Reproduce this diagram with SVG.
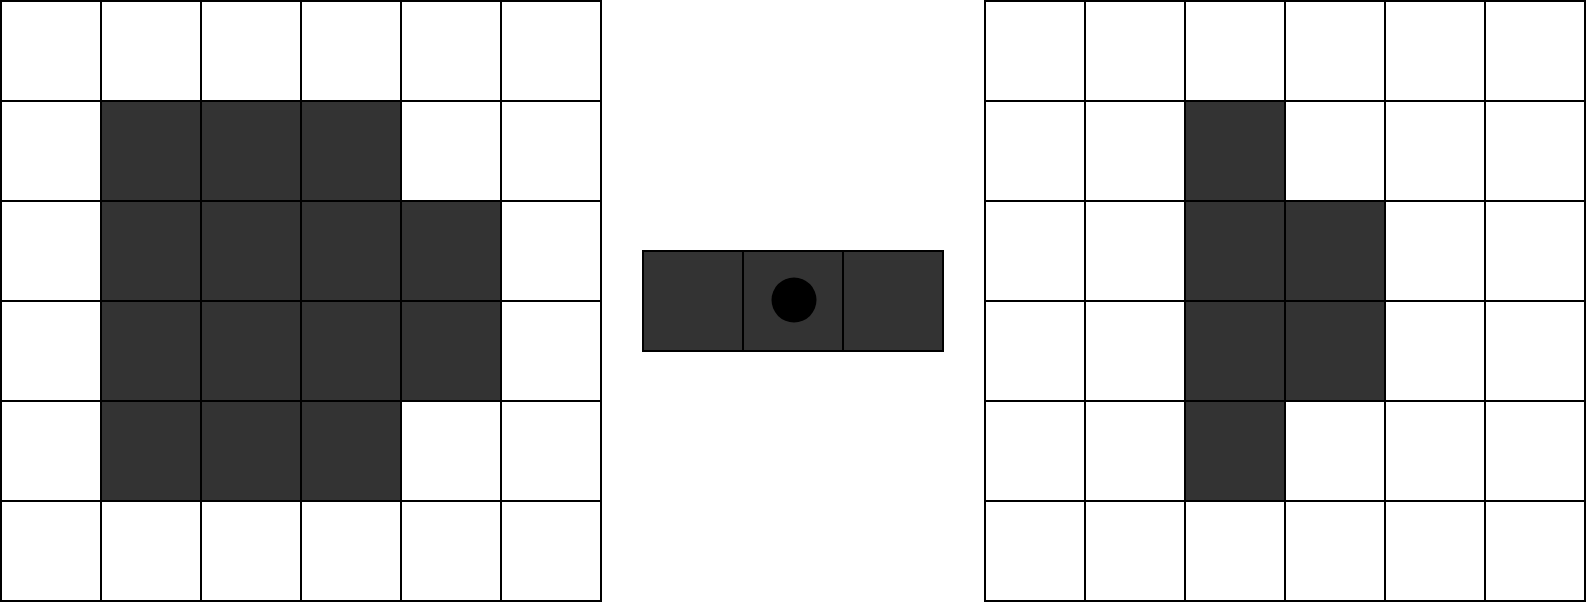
<svg xmlns="http://www.w3.org/2000/svg" width="1586" height="602" viewBox="0 0 1586 602">
<style>
.c{fill:#ffffff;stroke:#000000;stroke-width:2}
.d{fill:#333333;stroke:#000000;stroke-width:2}
</style>
<rect width="1586" height="602" fill="#ffffff"/>
<g id="left-grid">
<rect class="c" x="1" y="1" width="100" height="100"/><rect class="c" x="101" y="1" width="100" height="100"/><rect class="c" x="201" y="1" width="100" height="100"/><rect class="c" x="301" y="1" width="100" height="100"/><rect class="c" x="401" y="1" width="100" height="100"/><rect class="c" x="501" y="1" width="100" height="100"/>
<rect class="c" x="1" y="101" width="100" height="100"/><rect class="d" x="101" y="101" width="100" height="100"/><rect class="d" x="201" y="101" width="100" height="100"/><rect class="d" x="301" y="101" width="100" height="100"/><rect class="c" x="401" y="101" width="100" height="100"/><rect class="c" x="501" y="101" width="100" height="100"/>
<rect class="c" x="1" y="201" width="100" height="100"/><rect class="d" x="101" y="201" width="100" height="100"/><rect class="d" x="201" y="201" width="100" height="100"/><rect class="d" x="301" y="201" width="100" height="100"/><rect class="d" x="401" y="201" width="100" height="100"/><rect class="c" x="501" y="201" width="100" height="100"/>
<rect class="c" x="1" y="301" width="100" height="100"/><rect class="d" x="101" y="301" width="100" height="100"/><rect class="d" x="201" y="301" width="100" height="100"/><rect class="d" x="301" y="301" width="100" height="100"/><rect class="d" x="401" y="301" width="100" height="100"/><rect class="c" x="501" y="301" width="100" height="100"/>
<rect class="c" x="1" y="401" width="100" height="100"/><rect class="d" x="101" y="401" width="100" height="100"/><rect class="d" x="201" y="401" width="100" height="100"/><rect class="d" x="301" y="401" width="100" height="100"/><rect class="c" x="401" y="401" width="100" height="100"/><rect class="c" x="501" y="401" width="100" height="100"/>
<rect class="c" x="1" y="501" width="100" height="100"/><rect class="c" x="101" y="501" width="100" height="100"/><rect class="c" x="201" y="501" width="100" height="100"/><rect class="c" x="301" y="501" width="100" height="100"/><rect class="c" x="401" y="501" width="100" height="100"/><rect class="c" x="501" y="501" width="100" height="100"/>
</g>
<g id="kernel">
<rect class="d" x="643" y="251" width="100" height="100"/><rect class="d" x="743" y="251" width="100" height="100"/><rect class="d" x="843" y="251" width="100" height="100"/>
<circle cx="794" cy="300" r="22.5" fill="#000000"/>
</g>
<g id="right-grid">
<rect class="c" x="985" y="1" width="100" height="100"/><rect class="c" x="1085" y="1" width="100" height="100"/><rect class="c" x="1185" y="1" width="100" height="100"/><rect class="c" x="1285" y="1" width="100" height="100"/><rect class="c" x="1385" y="1" width="100" height="100"/><rect class="c" x="1485" y="1" width="100" height="100"/>
<rect class="c" x="985" y="101" width="100" height="100"/><rect class="c" x="1085" y="101" width="100" height="100"/><rect class="d" x="1185" y="101" width="100" height="100"/><rect class="c" x="1285" y="101" width="100" height="100"/><rect class="c" x="1385" y="101" width="100" height="100"/><rect class="c" x="1485" y="101" width="100" height="100"/>
<rect class="c" x="985" y="201" width="100" height="100"/><rect class="c" x="1085" y="201" width="100" height="100"/><rect class="d" x="1185" y="201" width="100" height="100"/><rect class="d" x="1285" y="201" width="100" height="100"/><rect class="c" x="1385" y="201" width="100" height="100"/><rect class="c" x="1485" y="201" width="100" height="100"/>
<rect class="c" x="985" y="301" width="100" height="100"/><rect class="c" x="1085" y="301" width="100" height="100"/><rect class="d" x="1185" y="301" width="100" height="100"/><rect class="d" x="1285" y="301" width="100" height="100"/><rect class="c" x="1385" y="301" width="100" height="100"/><rect class="c" x="1485" y="301" width="100" height="100"/>
<rect class="c" x="985" y="401" width="100" height="100"/><rect class="c" x="1085" y="401" width="100" height="100"/><rect class="d" x="1185" y="401" width="100" height="100"/><rect class="c" x="1285" y="401" width="100" height="100"/><rect class="c" x="1385" y="401" width="100" height="100"/><rect class="c" x="1485" y="401" width="100" height="100"/>
<rect class="c" x="985" y="501" width="100" height="100"/><rect class="c" x="1085" y="501" width="100" height="100"/><rect class="c" x="1185" y="501" width="100" height="100"/><rect class="c" x="1285" y="501" width="100" height="100"/><rect class="c" x="1385" y="501" width="100" height="100"/><rect class="c" x="1485" y="501" width="100" height="100"/>
</g>
<g id="connectors"></g>
</svg>
